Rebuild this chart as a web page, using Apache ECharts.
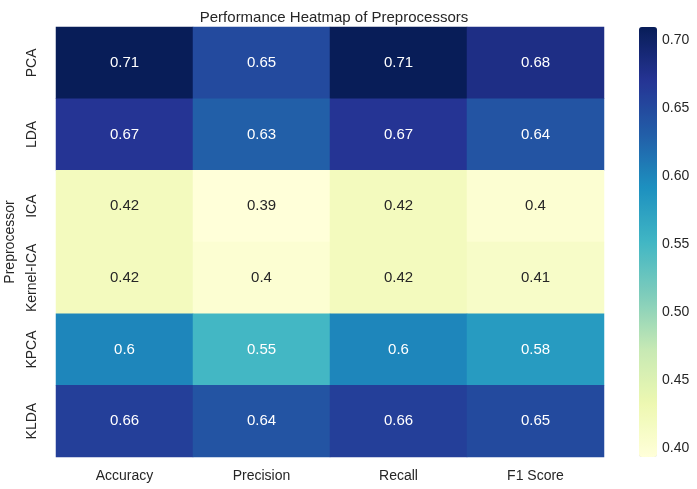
<!DOCTYPE html>
<html>
<head>
<meta charset="utf-8">
<script src="https://cdn.jsdelivr.net/npm/echarts@6/dist/echarts.min.js"></script>
<style>
  html, body { margin: 0; padding: 0; background: #fff; }
  #chart { width: 697px; height: 489px; }
</style>
</head>
<body>
<div id="chart"></div>
<script>
// ===== Heatmap data =====
const metrics = ['Accuracy', 'Precision', 'Recall', 'F1 Score'];
const preprocessors = ['PCA', 'LDA', 'ICA', 'Kernel-ICA', 'KPCA', 'KLDA'];
const scorePCA = [0.71, 0.65, 0.71, 0.68];
const scoreLDA = [0.67, 0.63, 0.67, 0.64];
const scoreICA = [0.42, 0.39, 0.42, 0.4];
const scoreKernelICA = [0.42, 0.4, 0.42, 0.41];
const scoreKPCA = [0.6, 0.55, 0.6, 0.58];
const scoreKLDA = [0.66, 0.64, 0.66, 0.65];
const colorbarTicks = [0.40, 0.45, 0.50, 0.55, 0.60, 0.65, 0.70];

const rows = [scorePCA, scoreLDA, scoreICA, scoreKernelICA, scoreKPCA, scoreKLDA];
const ylgnbu = ['#ffffd9', '#edf8b1', '#c7e9b4', '#7fcdbb', '#41b6c4', '#1d91c0', '#225ea8', '#253494', '#081d58'];
const textDark = '#262626';

const heatData = [];
rows.forEach((row, r) => {
  row.forEach((v, c) => {
    heatData.push({
      value: [c, r, v],
      label: { color: v >= 0.5 ? '#ffffff' : textDark }
    });
  });
});

const chart = echarts.init(document.getElementById('chart'));

const option = {
  backgroundColor: '#ffffff',
  animation: false,
  textStyle: { fontFamily: 'Liberation Sans, Arial, sans-serif' },
  title: {
    text: 'Performance Heatmap of Preprocessors',
    left: 329,
    textAlign: 'center',
    top: 5,
    textStyle: { fontSize: 15, fontWeight: 'normal', color: textDark, fontFamily: 'Liberation Sans' }
  },
  grid: [
    { left: 56, right: 93, top: 27, bottom: 32, outerBoundsMode: 'none' },
    { left: 639, width: 18, top: 40, height: 408, outerBoundsMode: 'none' }
  ],
  xAxis: [
    {
      type: 'category', data: metrics, gridIndex: 0,
      axisLine: { show: false }, axisTick: { show: false }, splitLine: { show: false },
      axisLabel: { fontSize: 14, color: textDark, margin: 12 }
    },
    { type: 'value', gridIndex: 1, show: false }
  ],
  yAxis: [
    {
      type: 'category', data: preprocessors, inverse: true, gridIndex: 0,
      axisLine: { show: false }, axisTick: { show: false }, splitLine: { show: false },
      axisLabel: { fontSize: 14, color: textDark, rotate: 90, margin: 17, interval: 0 },
      name: 'Preprocessor', nameLocation: 'middle', nameGap: 24,
      nameTextStyle: { fontSize: 14, color: textDark }
    },
    {
      type: 'value', gridIndex: 1, position: 'right',
      min: colorbarTicks[0], max: colorbarTicks[colorbarTicks.length - 1], interval: 0.05,
      axisLine: { show: false },
      axisTick: { show: true, length: 4, lineStyle: { color: textDark } },
      splitLine: { show: false },
      axisLabel: { fontSize: 14, color: textDark, margin: 5, formatter: v => v.toFixed(2) }
    }
  ],
  visualMap: {
    type: 'continuous',
    min: 0.393, max: 0.71,
    calculable: false, hoverLink: false,
    left: 639, top: 27, padding: 0,
    itemWidth: 18, itemHeight: 430,
    text: null, showLabel: false,
    seriesIndex: 0,
    inRange: { color: ylgnbu }
  },
  series: [{
    type: 'heatmap',
    xAxisIndex: 0, yAxisIndex: 0,
    data: heatData,
    label: { show: true, fontSize: 15, formatter: p => String(p.value[2]) },
    itemStyle: { borderWidth: 0 }
  }]
};

chart.setOption(option);
</script>
</body>
</html>
